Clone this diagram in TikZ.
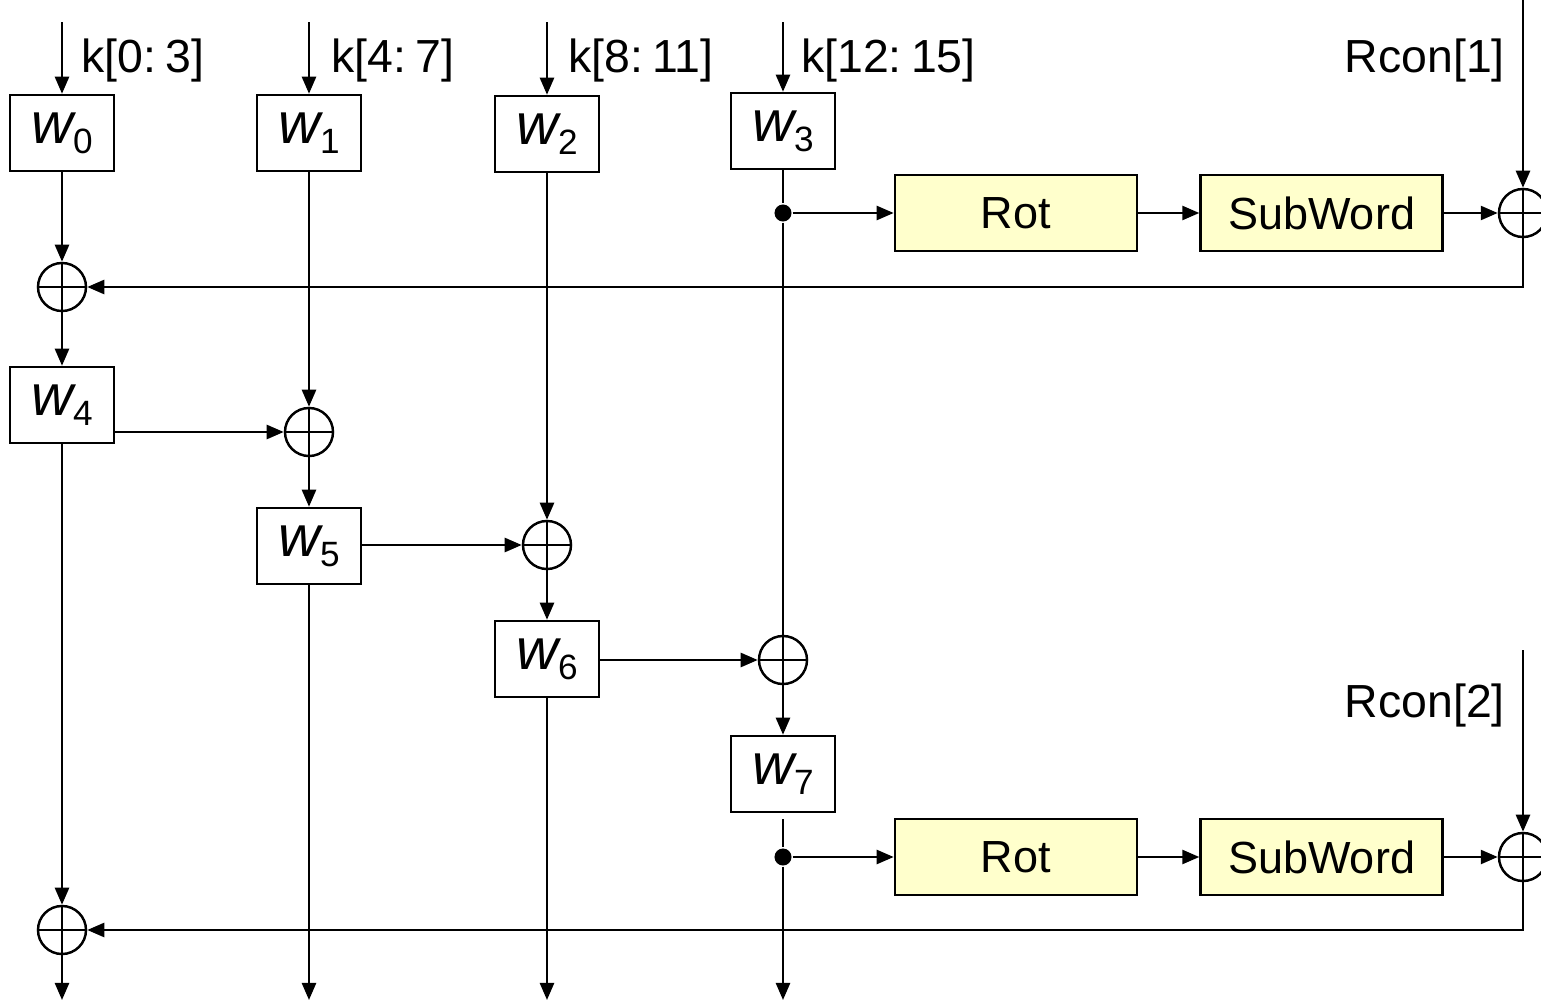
\documentclass[tikz,border=0pt]{standalone}
\usepackage{fontspec}
\setmainfont{Liberation Sans}
\usetikzlibrary{arrows.meta, positioning}

\newcommand{\wsub}[1]{{\fontsize{16.5}{16.5}\selectfont\itshape w}\raisebox{-0.1cm}{\fontsize{10}{10}\selectfont #1}}

\begin{document}
\begin{tikzpicture}[x=0.01cm, y=-0.01cm, line width=0.7pt, >={Triangle[length=0.17cm, width=0.14cm]}]

    % Define styles
    \tikzstyle{word} = [draw, minimum width=1.04cm, minimum height=0.76cm, inner sep=0pt]
    \tikzstyle{func} = [draw, fill={rgb,255:red,255;green,255;blue,204}, minimum width=2.42cm, minimum height=0.76cm, inner sep=0pt, font=\fontsize{12.8}{12.8}\selectfont]
    \tikzstyle{xorgate} = [draw, circle, minimum size=0.48cm, inner sep=0pt,
        path picture={\draw (path picture bounding box.north) -- (path picture bounding box.south)
                            (path picture bounding box.west) -- (path picture bounding box.east);}]
    \tikzstyle{junction} = [circle, fill, inner sep=0pt, minimum size=0.17cm]
    \tikzstyle{keylabel} = [inner sep=0pt, font=\fontsize{13.2}{13.2}\selectfont]

    \useasboundingbox (0,0) rectangle (1541,1003);

    % Define key points
    \coordinate (in0) at (62, 22);
    \coordinate (in1) at (309, 22);
    \coordinate (in2) at (547, 22);
    \coordinate (in3) at (783, 22);
    \coordinate (rtop1) at (1523, 0);
    \coordinate (rtop2) at (1523, 650);
    \coordinate (out0) at (62, 1000);
    \coordinate (out1) at (309, 1000);
    \coordinate (out2) at (547, 1000);
    \coordinate (out3) at (783, 1000);

    % Draw words
    \node[word] (w0) at (62, 133) {\wsub{0}};
    \node[word] (w1) at (309, 133) {\wsub{1}};
    \node[word] (w2) at (547, 134) {\wsub{2}};
    \node[word] (w3) at (783, 131) {\wsub{3}};
    \node[word] (w4) at (62, 405) {\wsub{4}};
    \node[word] (w5) at (309, 546) {\wsub{5}};
    \node[word] (w6) at (547, 659) {\wsub{6}};
    \node[word] (w7) at (783, 774) {\wsub{7}};

    % Draw round functions
    \node[func] (rot1) at (1016, 213) {Rot};
    \node[func, right=0.61cm of rot1] (sub1) {SubWord};
    \node[func] (rot2) at (1016, 857) {Rot};
    \node[func, right=0.61cm of rot2] (sub2) {SubWord};

    % Draw XOR gates
    \node[xorgate] (xr1) at (1523, 213) {};
    \node[xorgate] (x1) at (62, 287) {};
    \node[xorgate] (x2) at (309, 432) {};
    \node[xorgate] (x3) at (547, 545) {};
    \node[xorgate] (x4) at (783, 660) {};
    \node[xorgate] (xr2) at (1523, 857) {};
    \node[xorgate] (x5) at (62, 930) {};

    % Branch points
    \node[junction] (d1) at (783, 213) {};
    \node[junction] (d2) at (783, 857) {};

    % Key inputs
    \draw[->] (in0) -- (w0);
    \draw[->] (in1) -- (w1);
    \draw[->] (in2) -- (w2);
    \draw[->] (in3) -- (w3);
    \draw[->] (rtop1) -- (xr1);
    \draw[->] (rtop2) -- (xr2);

    % First round
    \draw (w3) -- (d1);
    \draw[->] (d1) -- (rot1);
    \draw[->] (rot1) -- (sub1);
    \draw[->] (sub1) -- (xr1);
    \draw[->] (xr1) |- (x1);
    \draw[->] (w0) -- (x1);
    \draw[->] (x1) -- (w4);
    \draw[->] (w1) -- (x2);
    \draw[->] (w4.east |- x2) -- (x2);
    \draw[->] (x2) -- (w5);
    \draw[->] (w2) -- (x3);
    \draw[->] (w5.east |- x3) -- (x3);
    \draw[->] (x3) -- (w6);
    \draw (d1) -- (x4);
    \draw[->] (w6.east |- x4) -- (x4);
    \draw[->] (x4) -- (w7);

    % Second round
    \draw[shorten <=0.06cm] (w7) -- (d2);
    \draw[->] (d2) -- (rot2);
    \draw[->] (rot2) -- (sub2);
    \draw[->] (sub2) -- (xr2);
    \draw[->] (xr2) |- (x5);
    \draw[->] (w4) -- (x5);

    % Outputs
    \draw[->] (x5) -- (out0);
    \draw[->] (w5) -- (out1);
    \draw[->] (w6) -- (out2);
    \draw[->] (d2) -- (out3);

    % Labels
    \node[keylabel, anchor=west] (k0) at (80, 60) {k[0:\hspace{0.2em}3]};
    \node[keylabel, anchor=west] (k1) at (330, 60) {k[4:\hspace{0.2em}7]};
    \node[keylabel, anchor=west] (k2) at (567, 60) {k[8:\hspace{0.2em}11]};
    \node[keylabel, anchor=west] (k3) at (800, 60) {k[12:\hspace{0.2em}15]};
    \node[keylabel, anchor=east] (rc1) at (1506, 60) {Rcon[1]};
    \node[keylabel, anchor=east] (rc2) at (1506, 705) {Rcon[2]};

\end{tikzpicture}
\end{document}
